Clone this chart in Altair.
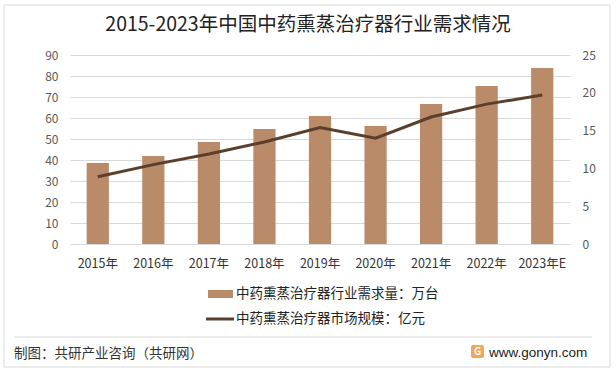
import altair as alt
import pandas as pd

years = ["2015年", "2016年", "2017年", "2018年", "2019年", "2020年", "2021年", "2022年", "2023年E"]
demand = [38.6, 41.9, 48.6, 54.8, 61.0, 56.2, 66.7, 75.2, 83.8]
market = [8.9, 10.5, 11.9, 13.5, 15.4, 14.0, 16.8, 18.5, 19.7]

title_text = "2015-2023年中国中药熏蒸治疗器行业需求情况"
legend_bar = "中药熏蒸治疗器行业需求量：万台"
legend_line = "中药熏蒸治疗器市场规模：亿元"
footer_left = "制图：共研产业咨询（共研网）"
footer_right = "www.gonyn.com"

FONT = "Noto Sans CJK SC"
BAR_COLOR = "#B98B69"
LINE_COLOR = "#5B3F2C"
GRID = "#D9D9D9"
TXT = "#595959"

df = pd.DataFrame({"year": years, "demand": demand, "market": market})

xenc = alt.X("year:N", sort=years, title=None,
             scale=alt.Scale(paddingInner=0.6, paddingOuter=0.3),
             axis=alt.Axis(labelAngle=0, domain=False, ticks=False, labelPadding=13,
                           labelFontSize=12.5, labelColor="#333333", labelFont=FONT))

bars = alt.Chart(df).mark_bar(color=BAR_COLOR).encode(
    x=xenc,
    y=alt.Y("demand:Q", title=None,
            scale=alt.Scale(domain=[0, 90], nice=False),
            axis=alt.Axis(values=list(range(0, 91, 10)), domain=False, ticks=False,
                          gridColor=GRID, labelPadding=12, labelFontSize=12,
                          labelColor=TXT, labelFont=FONT)),
)

line = alt.Chart(df).mark_line(color=LINE_COLOR, strokeWidth=3).encode(
    x=alt.X("year:N", sort=years),
    y=alt.Y("market:Q", title=None,
            scale=alt.Scale(domain=[0, 25], nice=False),
            axis=alt.Axis(orient="right", values=list(range(0, 26, 5)), domain=False,
                          ticks=False, grid=False, labelPadding=12, labelFontSize=12,
                          labelColor=TXT, labelFont=FONT)),
)

main = alt.layer(bars, line).resolve_scale(y="independent")


def one(t):
    return pd.DataFrame({"t": [t]})


border = alt.Chart(one("")).mark_rect(fill=None, stroke=GRID, strokeWidth=1).encode(
    x=alt.value(-66), x2=alt.value(540), y=alt.value(-50), y2=alt.value(312))

title = alt.Chart(one(title_text)).mark_text(
    fontSize=19.5, font=FONT, color="#222222", align="center", baseline="middle").encode(
    x=alt.value(238), y=alt.value(-30), text="t:N")

sw_bar = alt.Chart(one("")).mark_rect(color=BAR_COLOR).encode(
    x=alt.value(138), x2=alt.value(163), y=alt.value(235), y2=alt.value(243))
lg_bar = alt.Chart(one(legend_bar)).mark_text(
    fontSize=13.5, font=FONT, color="#222222", align="left", baseline="middle").encode(
    x=alt.value(166), y=alt.value(239), text="t:N")

sw_line = alt.Chart(one("")).mark_rule(color=LINE_COLOR, strokeWidth=3).encode(
    x=alt.value(136), x2=alt.value(164), y=alt.value(264))
lg_line = alt.Chart(one(legend_line)).mark_text(
    fontSize=13.5, font=FONT, color="#222222", align="left", baseline="middle").encode(
    x=alt.value(166), y=alt.value(264), text="t:N")

sep = alt.Chart(one("")).mark_rule(color=GRID, strokeWidth=1).encode(
    x=alt.value(-56), x2=alt.value(522), y=alt.value(282))

foot_l = alt.Chart(one(footer_left)).mark_text(
    fontSize=13.5, font=FONT, color="#333333", align="left", baseline="middle").encode(
    x=alt.value(-56), y=alt.value(299), text="t:N")

logo = alt.Chart(one("")).mark_rect(color="#F2A65A", cornerRadius=2).encode(
    x=alt.value(401), x2=alt.value(414), y=alt.value(290), y2=alt.value(303))
logo_g = alt.Chart(one("G")).mark_text(
    fontSize=10, font=FONT, fontWeight="bold", color="white", align="center", baseline="middle").encode(
    x=alt.value(407.5), y=alt.value(297), text="t:N")

foot_r = alt.Chart(one(footer_right)).mark_text(
    fontSize=13.5, font="Liberation Sans", color="#222222", align="left", baseline="middle").encode(
    x=alt.value(419), y=alt.value(298), text="t:N")

chart = alt.layer(
    main, border, title, sw_bar, lg_bar, sw_line, lg_line, sep, foot_l, logo, logo_g, foot_r
).properties(
    width=500, height=189,
    padding={"left": 70, "top": 55, "right": 46, "bottom": 131},
    autosize=alt.AutoSizeParams(type="none"),
    background="white",
).configure_view(stroke=None)

chart.save("out.html", embed_options={"renderer": "svg", "actions": False})
